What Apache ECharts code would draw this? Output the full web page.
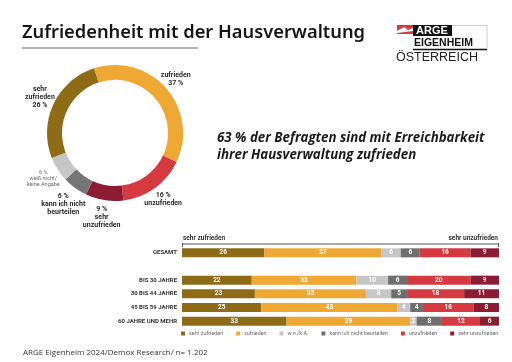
<!DOCTYPE html>
<html><head><meta charset="utf-8">
<script src="https://cdn.jsdelivr.net/npm/echarts@6/dist/echarts.min.js"></script>
<style>html,body{margin:0;padding:0;background:#fff}#c{width:512px;height:362px}</style>
</head><body><div id="c"></div>
<script>
var pieNames = ['zufrieden','unzufrieden','sehr unzufrieden','kann ich nicht beurteilen','weiß nicht/keine Angabe','sehr zufrieden'];
var pieValues = [37,16,9,6,6,26];
var pieLabels = ['zufrieden\n{p|37 %}','{p|16 %}\nunzufrieden','{p|9 %}\nsehr\nunzufrieden','{p|6 %}\nkann ich nicht\nbeurteilen','{s|6 %\nweiß nicht/\nkeine Angabe}','sehr\nzufrieden\n{p|26 %}'];
var pieColors = ['#efa834','#d63a41','#8c1c33','#767676','#c6c6c6','#8e6b17'];

var categories = ['GESAMT','','BIS 30 JAHRE','30 BIS 44 JAHRE','45 BIS 59 JAHRE','60 JAHRE UND MEHR'];
var seriesNames = ['sehr zufrieden','zufrieden','w.n./k.A.','kann ich nicht beurteilen','unzufrieden','sehr unzufrieden'];
var sehrZufrieden   = [26,'-',22,23,25,33];
var zufrieden       = [37,'-',33,35,43,39];
var wnka            = [6,'-',10,8,4,2];
var kannNicht       = [6,'-',6,5,4,8];
var unzufrieden     = [16,'-',20,18,16,12];
var sehrUnzufrieden = [9,'-',9,11,8,6];
var barColors = ['#8e6b17','#efa834','#c6c6c6','#6e6e6e','#d63a41','#8c1c33'];

var chart = echarts.init(document.getElementById('c'), null, {renderer:'canvas'});
var cx = 115, cy = 133, startAngle = 108;
var total = pieValues.reduce(function(a,b){return a+b;},0);
var labelDist = [81,82,85,88,85,83];
var graphics = [];
var acc = 0;
pieValues.forEach(function(v,i){
  var midTop = -(startAngle-90) + (acc + v/2)/total*360;
  acc += v;
  var r = midTop*Math.PI/180;
  graphics.push({type:'text', x: cx + labelDist[i]*Math.sin(r), y: cy - labelDist[i]*Math.cos(r),
    style:{text: pieLabels[i], align:'center', verticalAlign:'middle', fontFamily:'Roboto', fontWeight:'bold', fontSize:7, lineHeight:8, fill:'#2a2a2a',
      rich:{p:{fontFamily:'Roboto',fontWeight:'bold',fontSize:7,lineHeight:8,fill:'#2a2a2a'}, s:{fontFamily:'Roboto',fontWeight:'normal',fontSize:5.5,lineHeight:6,fill:'#666'}}}});
});
graphics = graphics.concat([
  {type:'text', left:22, top:24, style:{text:'Zufriedenheit mit der Hausverwaltung', fontFamily:'Noto Sans', fontWeight:600, fontSize:18.3, fill:'#151515'}},
  {type:'line', shape:{x1:22,y1:48,x2:198,y2:48}, style:{stroke:'#9a9a9a', lineWidth:1.5}},
  {type:'text', left:217, top:129, style:{text:'63 % der Befragten sind mit Erreichbarkeit\nihrer Hausverwaltung zufrieden', fontFamily:'Open Sans', fontStyle:'italic', fontWeight:'bold', fontSize:13.3, lineHeight:17.5, fill:'#1a1a1a'}},
  {type:'text', left:23, top:349, style:{text:'ARGE Eigenheim 2024/Demox Research/ n= 1.202', fontFamily:'Open Sans', fontSize:8, fill:'#333'}},
  {type:'line', shape:{x1:182,y1:244,x2:499,y2:244}, style:{stroke:'#555', lineWidth:1}},
  {type:'line', shape:{x1:182.5,y1:243,x2:182.5,y2:247}, style:{stroke:'#555', lineWidth:1}},
  {type:'line', shape:{x1:498.5,y1:243,x2:498.5,y2:247}, style:{stroke:'#555', lineWidth:1}},
  {type:'text', left:183, top:235, style:{text:'sehr zufrieden', fontFamily:'Roboto', fontWeight:'bold', fontSize:6.5, fill:'#333'}},
  {type:'text', right:14, top:235, style:{text:'sehr unzufrieden', fontFamily:'Roboto', fontWeight:'bold', fontSize:6.5, fill:'#333', align:'right'}},
  {type:'polygon', shape:{points:[[397,25],[413,25],[413,34],[397,34]]}, style:{fill:'#d63a41'}},
  {type:'polygon', shape:{points:[[397,31],[404,27],[408,30],[413,28],[413,31],[397,33]]}, style:{fill:'#fff'}},
  {type:'rect', shape:{x:413,y:25,width:39,height:11}, style:{fill:'#111'}},
  {type:'text', left:416, top:25, style:{text:'ARGE', fontFamily:'Liberation Sans', fontWeight:'bold', fontSize:11, fill:'#fff'}},
  {type:'line', shape:{x1:452,y1:25.5,x2:487,y2:25.5}, style:{stroke:'#ccc', lineWidth:1}},
  {type:'line', shape:{x1:487,y1:25,x2:487,y2:49}, style:{stroke:'#ccc', lineWidth:1}},
  {type:'text', left:414, top:38, style:{text:'EIGENHEIM', fontFamily:'Liberation Sans', fontWeight:'bold', fontSize:10.5, fill:'#111'}},
  {type:'line', shape:{x1:413,y1:49.5,x2:487,y2:49.5}, style:{stroke:'#111', lineWidth:1.5}},
  {type:'text', left:396, top:51, style:{text:'ÖSTERREICH', fontFamily:'Liberation Sans', fontSize:12.5, fill:'#222'}}
]);

var barData = [sehrZufrieden, zufrieden, wnka, kannNicht, unzufrieden, sehrUnzufrieden];
var barSeries = barData.map(function(d,i){
  return {name: seriesNames[i], type:'bar', stack:'t', data:d, barWidth:9,
    itemStyle:{color:barColors[i]},
    label:{show:true, position:'inside', color:'#fff', fontFamily:'Roboto', fontWeight:'bold', fontSize:6.5}};
});

chart.setOption({
  animation:false,
  grid:{left:182, right:13, top:246, height:82},
  xAxis:{type:'value', min:0, max:100, show:false},
  yAxis:{type:'category', data:categories, inverse:true, axisLine:{show:false}, axisTick:{show:false},
    axisLabel:{fontFamily:'Roboto', fontWeight:'bold', fontSize:6, color:'#333', margin:5}},
  legend:{data:seriesNames, top:331, left:181, width:331, padding:0, itemWidth:4, itemHeight:4, itemGap:13, icon:'rect',
    textStyle:{fontFamily:'Roboto', fontSize:5.4, color:'#666', padding:[0,0,0,-1]}},
  graphic: graphics,
  series:[{type:'pie', center:[cx,cy], radius:[53,68], startAngle:startAngle, clockwise:true, label:{show:false}, labelLine:{show:false},
    silent:true,
    data: pieValues.map(function(v,i){return {name:pieNames[i], value:v, itemStyle:{color:pieColors[i]}};})}].concat(barSeries)
});
</script></body></html>
